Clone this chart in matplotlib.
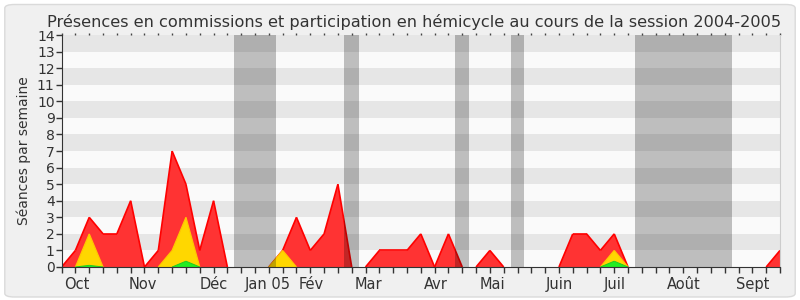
import matplotlib
matplotlib.use("Agg")
import matplotlib.pyplot as plt
import matplotlib.transforms as mtransforms
from matplotlib.patches import FancyBboxPatch
import numpy as np

title = "Présences en commissions et participation en hémicycle au cours de la session 2004-2005"
ylabel = "Séances par semaine"

# weekly values (53 weeks)
total = [0, 1, 3, 2, 2, 4, 0, 1, 7, 5, 1, 4, 0, 0, 0, 0, 1, 3, 1, 2,
         5, 0, 0, 1, 1, 1, 2, 0, 2, 0, 0, 1, 0, 0, 0, 0, 0, 2, 2, 1,
         2, 0, 0, 0, 0, 0, 0, 0, 0, 0, 0, 0, 1]
commission = [0, 0, 2, 0, 0, 0, 0, 0, 1, 3, 0, 0, 0, 0, 0, 0, 1, 0, 0, 0,
              0, 0, 0, 0, 0, 0, 0, 0, 0, 0, 0, 0, 0, 0, 0, 0, 0, 0, 0, 0,
              1, 0, 0, 0, 0, 0, 0, 0, 0, 0, 0, 0, 0]
questions = [0, 0, 0.1, 0, 0, 0, 0, 0, 0, 0.35, 0, 0, 0, 0, 0, 0, 0, 0, 0, 0,
             0, 0, 0, 0, 0, 0, 0, 0, 0, 0, 0, 0, 0, 0, 0, 0, 0, 0, 0, 0,
             0.35, 0, 0, 0, 0, 0, 0, 0, 0, 0, 0, 0, 0]

vacations = [(12.45, 15.5), (20.46, 21.54), (28.5, 29.5), (32.5, 33.5), (41.47, 48.55)]

months = ["Oct", "Nov", "Déc", "Jan 05", "Fév", "Mar", "Avr", "Mai", "Juin", "Juil", "Août", "Sept"]
month_pos = [1.1, 5.9, 11.0, 14.9, 18.1, 22.2, 27.1, 31.2, 36.0, 40.0, 45.0, 50.0]

weeks = np.arange(len(total))
ymax = 14


def outline(ax, values, color, lw, z):
    v = np.asarray(values, dtype=float)
    for i in range(len(v) - 1):
        if v[i] == 0 and v[i + 1] == 0:
            continue
        ax.plot(weeks[i:i + 2], v[i:i + 2], color=color, linewidth=lw, zorder=z,
                solid_capstyle="butt")


fig = plt.figure(figsize=(8, 3), dpi=100, facecolor="white")
bg = FancyBboxPatch((0.006, 0.01), 0.988, 0.975, boxstyle="round,pad=0,rounding_size=0.012",
                    transform=fig.transFigure, facecolor="#F0F0F0", edgecolor="#DADADA",
                    linewidth=1, zorder=-10)
fig.patches.append(bg)

ax = fig.add_axes([0.077, 0.11, 0.898, 0.773])
ax.set_facecolor("#FAFAFA")

# stripes
for k in range(ymax):
    if k % 2 == 1:
        ax.axhspan(k, k + 1, color="#E6E6E6", zorder=0, linewidth=0)

ax.fill_between(weeks, 0, total, facecolor="#FF3333", linewidth=0, zorder=2)
outline(ax, total, "#FF0000", 1.2, 2.5)
ax.fill_between(weeks, 0, commission, facecolor="#FFD700", linewidth=0, zorder=3)
outline(ax, commission, "#FFC800", 0.9, 3.5)
ax.fill_between(weeks, 0, questions, facecolor="#22EE22", linewidth=0, zorder=4)
outline(ax, questions, "#22CC22", 0.7, 4.5)

for a, b in vacations:
    ax.axvspan(a, b, color="black", alpha=0.24, linewidth=0, zorder=5)

ax.set_xlim(0, len(total) - 1)
ax.set_ylim(0, ymax)

txt = "#333333"
ax.set_yticks(range(ymax + 1))
ax.set_yticklabels([str(v) for v in range(ymax + 1)], fontsize=10, color=txt)
ax.tick_params(axis="y", length=4, width=1, color="#333333", pad=1)

ax.set_xticks(weeks)
ax.set_xticklabels([])
ax.tick_params(axis="x", which="major", length=4, width=1, color="#333333")

trans = mtransforms.blended_transform_factory(ax.transData, ax.transAxes)
for lab, pos in zip(months, month_pos):
    ax.text(pos, -0.045, lab, transform=trans, ha="center", va="top", fontsize=10.5, color=txt)

top = ax.secondary_xaxis("top")
top.set_xticks(weeks)
top.set_xticklabels([])
top.tick_params(length=1.2, width=1, color="#444444")
top.spines["top"].set_visible(False)

ax.spines["top"].set_visible(False)
ax.spines["right"].set_color("#CCCCCC")
ax.spines["left"].set_color("#333333")
ax.spines["bottom"].set_color("#333333")
ax.spines["bottom"].set_zorder(6)

ax.set_ylabel(ylabel, fontsize=10, color=txt, labelpad=4)
fig.text(0.517, 0.928, title, ha="center", va="center", fontsize=11.6, color=txt)

fig.savefig("out.png", dpi=100, facecolor=fig.get_facecolor())
